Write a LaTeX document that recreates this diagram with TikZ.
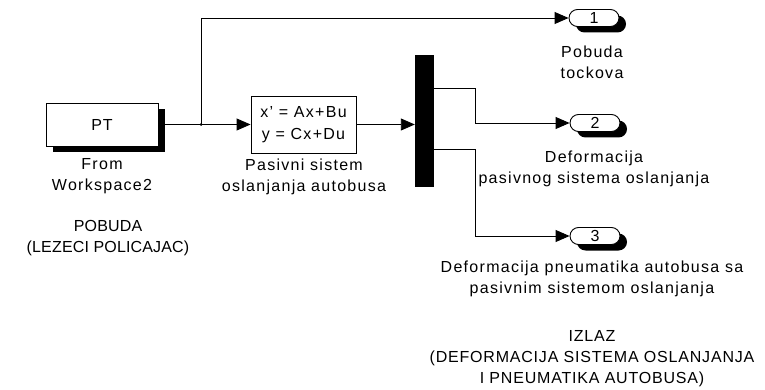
\documentclass[tikz,border=0pt]{standalone}
\usepackage{fontspec}
\setmainfont[LetterSpace=8]{Liberation Sans}
\newfontfamily\capsfont[LetterSpace=5]{Liberation Sans}
\newfontfamily\capsfontnarrow[LetterSpace=1]{Liberation Sans}
\usetikzlibrary{arrows.meta,shadows}
\begin{document}
\begin{tikzpicture}[x=1pt,y=-1pt,
  font=\fontsize{16}{21}\selectfont,
  wire/.style={line width=0.9pt},
  arr/.style={wire,-{Triangle[length=14pt,width=12pt]}},
  blk/.style={draw,line width=0.9pt,fill=white,inner sep=0pt,align=center},
  shad/.style={drop shadow={shadow xshift=7pt,shadow yshift=-6pt,fill=black,opacity=1}},
  outp/.style={blk,shad,rounded corners=8.5pt,minimum width=50pt,minimum height=17pt},
  lbl/.style={inner sep=0pt,align=center},
  caplbl/.style={lbl,font=\fontsize{16}{21}\selectfont\capsfont}]
\useasboundingbox (0,0) rectangle (765,390);
% blocks
\node[blk,shad,minimum width=112pt,minimum height=43pt,font=\fontsize{16}{21}\selectfont\capsfont] (fw) at (102,124.5) {PT};
\node[blk,minimum width=105pt,minimum height=57pt] (ss) at (303.5,124.5) {x' = Ax+Bu\\[1pt] y = Cx+Du};
\node[draw,fill=black,inner sep=0pt,minimum width=18pt,minimum height=131pt] (mux) at (424,120.5) {};
\node[outp] (o1) at (594,18) {1};
\node[outp] (o2) at (595,123) {2};
\node[outp] (o3) at (595,236) {3};
\coordinate (j) at (201,124.5);
% labels
\node[lbl] (lfw) at (102,176) {From\\Workspace2};
\node[lbl] (lss) at (304,176.5) {Pasivni sistem\\oslanjanja autobusa};
\node[caplbl,font=\fontsize{16}{21}\selectfont\capsfontnarrow] (lpob) at (108,238.5) {POBUDA\\(LEZECI POLICAJAC)};
\node[lbl] (l1) at (592,62.5) {Pobuda\\tockova};
\node[lbl] (l2) at (594,169) {Deformacija\\pasivnog sistema oslanjanja};
\node[lbl] (l3) at (592,279) {Deformacija pneumatika autobusa sa\\pasivnim sistemom oslanjanja};
\node[caplbl] (liz) at (592,359) {IZLAZ\\(DEFORMACIJA SISTEMA OSLANJANJA\\I PNEUMATIKA AUTOBUSA)};
% connectors
\draw[arr] (fw.east) -- (ss.west);
\fill (j) circle (1.5pt);
\draw[arr] (j) |- (o1.west);
\draw[arr] (ss.east) -- (ss.east -| mux.west);
\draw[arr] ([yshift=32.5pt]mux.east) -- ++(42,0) |- (o2.west);
\draw[arr] ([yshift=-28.5pt]mux.east) -- ++(42,0) |- (o3.west);
\end{tikzpicture}
\end{document}
